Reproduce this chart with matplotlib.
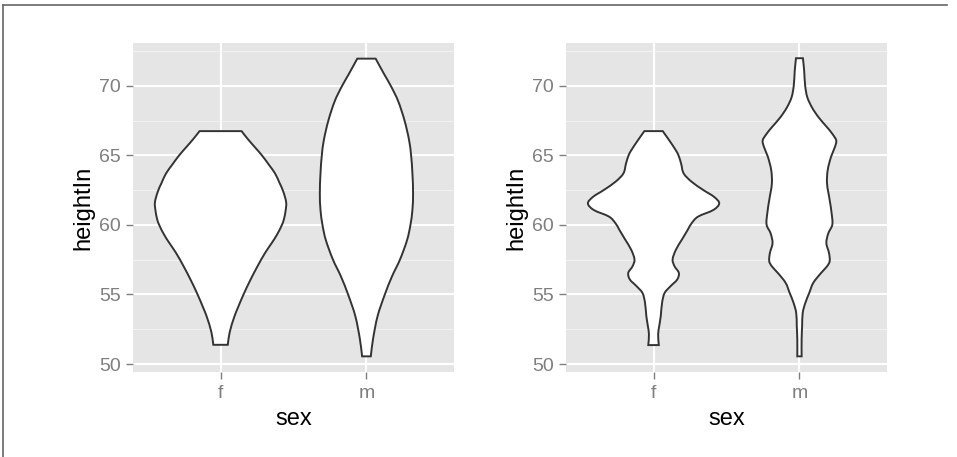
import numpy as np
import matplotlib
matplotlib.use('Agg')
import matplotlib.pyplot as plt
from matplotlib.path import Path
from matplotlib.patches import PathPatch
from matplotlib.lines import Line2D

plt.rcParams['font.family'] = ['Liberation Sans', 'DejaVu Sans']

SEXES = ['f', 'm']
Y_TICKS = [50, 55, 60, 65, 70]
Y_MINOR = [52.5, 57.5, 62.5, 67.5, 72.5]
Y_RANGE = (50.5, 72.0)

# left panel: smooth density (large bandwidth), relative half-width vs heightIn
SMOOTH_F_HEIGHT = [51.38, 52.3, 53.4, 54.0, 55.0, 56.0, 57.0, 58.0, 58.7, 59.3, 60.0,
                   60.4, 61.0, 61.6, 62.4, 63.0, 63.7, 64.3, 65.0, 65.6, 66.2, 66.74]
SMOOTH_F_WIDTH = [0.11, 0.14, 0.21, 0.26, 0.35, 0.45, 0.56, 0.68, 0.78, 0.86, 0.935,
                  0.965, 0.99, 1.0, 0.955, 0.90, 0.83, 0.74, 0.63, 0.52, 0.41, 0.32]
SMOOTH_M_HEIGHT = [50.55, 51.79, 53.45, 55.0, 56.31, 57.5, 58.93, 60.0, 61.07, 62.26,
                   63.7, 65.0, 66.07, 67.5, 68.93, 70.0, 70.83, 71.95]
SMOOTH_M_WIDTH = [0.066, 0.10, 0.17, 0.28, 0.39, 0.51, 0.62, 0.67, 0.70, 0.71,
                  0.70, 0.68, 0.65, 0.58, 0.48, 0.37, 0.27, 0.14]

# right panel: wiggly density (small bandwidth)
WIGGLY_F_HEIGHT = [51.36, 52.14, 52.74, 53.45, 54.4, 55.12, 55.6, 56.07, 56.55, 57.02,
                   57.5, 58.21, 58.93, 59.64, 60.12, 60.6, 61.07, 61.55, 62.02, 62.5,
                   63.1, 63.69, 64.4, 65.0, 65.36, 66.07, 66.74]
WIGGLY_F_WIDTH = [0.08, 0.07, 0.087, 0.11, 0.13, 0.17, 0.26, 0.36, 0.385, 0.32,
                  0.29, 0.34, 0.43, 0.52, 0.58, 0.68, 0.91, 1.0, 0.92, 0.76,
                  0.58, 0.46, 0.42, 0.38, 0.34, 0.24, 0.14]
WIGGLY_M_HEIGHT = [50.55, 51.79, 52.74, 53.69, 54.4, 55.12, 55.83, 56.55, 57.02, 57.38,
                   57.98, 58.69, 59.4, 60.0, 60.83, 61.79, 62.98, 63.93, 64.88, 65.6,
                   66.07, 66.55, 67.02, 67.74, 68.45, 69.17, 70.0, 71.07, 71.98]
WIGGLY_M_WIDTH = [0.033, 0.033, 0.041, 0.05, 0.09, 0.15, 0.21, 0.33, 0.42, 0.46,
                  0.45, 0.41, 0.44, 0.50, 0.49, 0.46, 0.42, 0.43, 0.48, 0.54,
                  0.56, 0.50, 0.42, 0.29, 0.19, 0.12, 0.087, 0.072, 0.053]


def hermite_segments(xs, ys):
    # x as a smooth function of y, drawn as cubic beziers (tangents by central differences)
    n = len(xs)
    slope = np.empty(n)
    for i in range(n):
        a, b = max(i - 1, 0), min(i + 1, n - 1)
        slope[i] = (xs[b] - xs[a]) / (ys[b] - ys[a])
    verts, codes = [], []
    for i in range(n - 1):
        d = (ys[i + 1] - ys[i]) / 3.0
        verts += [(xs[i] + slope[i] * d, ys[i] + d),
                  (xs[i + 1] - slope[i + 1] * d, ys[i + 1] - d),
                  (xs[i + 1], ys[i + 1])]
        codes += [Path.CURVE4] * 3
    return verts, codes


def violin_path(center, heights, widths, half_max=0.45):
    y = np.asarray(heights, float)
    hw = np.asarray(widths, float) * half_max
    xr = center + hw
    xl = (center - hw)[::-1]
    yl = y[::-1]
    verts = [(xr[0], y[0])]
    codes = [Path.MOVETO]
    v, c = hermite_segments(xr, y)
    verts += v; codes += c
    verts.append((xl[0], yl[0])); codes.append(Path.LINETO)
    v, c = hermite_segments(xl, yl)
    verts += v; codes += c
    verts.append((xr[0], y[0])); codes.append(Path.CLOSEPOLY)
    return Path(np.array(verts), codes)


def draw_panel(ax, profiles):
    ax.set_facecolor('#E5E5E5')
    for s in ax.spines.values():
        s.set_visible(False)
    pad = 0.05 * (Y_RANGE[1] - Y_RANGE[0])
    ax.set_ylim(Y_RANGE[0] - pad, Y_RANGE[1] + pad)
    ax.set_xlim(0.4, 2.6)

    for yv in Y_MINOR:
        ax.axhline(yv, color='#F2F2F2', lw=0.8, zorder=0.5)
    for yv in Y_TICKS:
        ax.axhline(yv, color='white', lw=1.5, zorder=0.6)
    for xv in range(1, len(SEXES) + 1):
        ax.axvline(xv, color='white', lw=1.5, zorder=0.6)

    for i, (h, w) in enumerate(profiles):
        patch = PathPatch(violin_path(i + 1, h, w), facecolor='white',
                          edgecolor='#333333', lw=1.4, zorder=2)
        ax.add_patch(patch)

    ax.set_xticks(range(1, len(SEXES) + 1))
    ax.set_xticklabels(SEXES)
    ax.set_yticks(Y_TICKS)
    ax.tick_params(colors='#7F7F7F', labelsize=14, length=5, width=1, pad=4)
    ax.set_xlabel('sex', fontsize=17, labelpad=5)
    ax.set_ylabel('heightIn', fontsize=17, labelpad=3)


def main():
    fig = plt.figure(figsize=(9.57, 4.57), dpi=100)
    ax1 = fig.add_axes([133 / 957, 85 / 457, 321 / 957, 329 / 457])
    ax2 = fig.add_axes([566 / 957, 85 / 457, 321 / 957, 329 / 457])

    draw_panel(ax1, [(SMOOTH_F_HEIGHT, SMOOTH_F_WIDTH), (SMOOTH_M_HEIGHT, SMOOTH_M_WIDTH)])
    draw_panel(ax2, [(WIGGLY_F_HEIGHT, WIGGLY_F_WIDTH), (WIGGLY_M_HEIGHT, WIGGLY_M_WIDTH)])

    # thin frame around the image (top and left edges)
    fig.add_artist(Line2D([3 / 957, 947 / 957], [1 - 5 / 457, 1 - 5 / 457],
                          transform=fig.transFigure, color='#666666', lw=1.2))
    fig.add_artist(Line2D([3 / 957, 3 / 957], [0, 1 - 5 / 457],
                          transform=fig.transFigure, color='#666666', lw=1.2))

    fig.savefig('out.png', dpi=100)


if __name__ == '__main__':
    main()
